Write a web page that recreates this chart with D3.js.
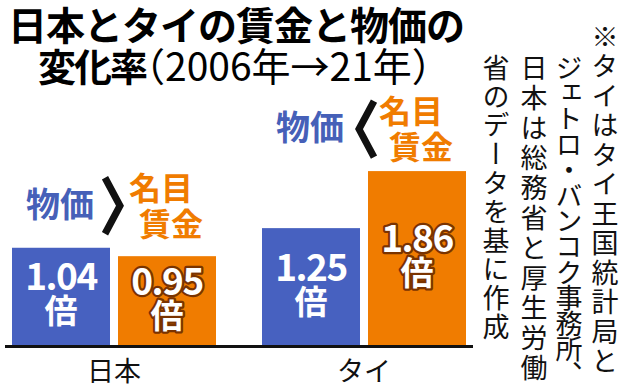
<!DOCTYPE html>
<html>
<head>
<meta charset="utf-8">
<script src="https://cdn.jsdelivr.net/npm/d3@7"></script>
<style>
  html, body { margin: 0; padding: 0; background: #fff; }
  svg { display: block; font-family: "Noto Sans CJK JP", "Noto Sans", sans-serif; }
</style>
</head>
<body>
<script>
// data
const categories = ['日本', 'タイ'];
const series = ['物価', '名目賃金'];
const priceValues = [1.04, 1.25];
const wageValues = [0.95, 1.86];
const titleLines = ['日本とタイの賃金と物価の', '変化率', '（2006年→21年）'];
const noteLines = ['※タイはタイ王国統計局と', 'ジェトロ・バンコク事務所、', '日本は総務省と厚生労働', '省のデータを基に作成'];

const width = 640;
const height = 392;
const blue = '#4761c0';
const orange = '#f07c00';

const svg = d3.select('body')
  .append('svg')
  .attr('width', width)
  .attr('height', height);

svg.append('rect').attr('width', width).attr('height', height).attr('fill', '#fff');

// title
svg.append('text')
  .attr('x', 8).attr('y', 40)
  .attr('font-size', 39).attr('font-weight', 700)
  .attr('letter-spacing', -1)
  .text(titleLines[0]);

svg.append('text')
  .attr('x', 38).attr('y', 81)
  .attr('font-size', 38).attr('font-weight', 700)
  .attr('letter-spacing', -2)
  .text(titleLines[1]);

svg.append('text')
  .attr('x', 126).attr('y', 81)
  .attr('font-size', 39).attr('font-weight', 400)
  .text(titleLines[2]);

// scales
const y = d3.scaleLinear().domain([0, 2]).range([345, 158]);
const x0 = d3.scaleBand().domain(categories).range([12, 466]).paddingInner(0.184);
const x1 = d3.scaleBand().domain(series).range([0, x0.bandwidth()]).paddingInner(0.0755);
const color = d3.scaleOrdinal().domain(series).range([blue, orange]);

const rows = categories.map((c, i) => ({
  cat: c,
  vals: [
    { key: series[0], v: priceValues[i] },
    { key: series[1], v: wageValues[i] }
  ]
}));

const groups = svg.selectAll('g.grp')
  .data(rows)
  .join('g')
  .attr('class', 'grp')
  .attr('transform', d => `translate(${x0(d.cat)},0)`);

groups.selectAll('rect')
  .data(d => d.vals)
  .join('rect')
  .attr('x', d => x1(d.key))
  .attr('y', d => y(d.v))
  .attr('width', x1.bandwidth())
  .attr('height', d => y(0) - y(d.v))
  .attr('fill', d => color(d.key));

// value labels inside bars
const fmt = d3.format('.2f');
const lab = groups.selectAll('g.lab')
  .data(d => d.vals)
  .join('g')
  .attr('class', 'lab')
  .attr('transform', d => `translate(${x1(d.key) + x1.bandwidth() / 2},${(y(d.v) + y(0)) / 2})`)
  .attr('text-anchor', 'middle')
  .attr('font-weight', 700)
  .attr('fill', '#fff')
  .attr('stroke', d => d.key === series[1] ? '#7a3300' : 'none')
  .attr('stroke-width', 4.5)
  .attr('stroke-linejoin', 'round')
  .style('paint-order', 'stroke');

lab.append('text')
  .attr('y', -6)
  .attr('font-size', 37)
  .attr('letter-spacing', -1.5)
  .text(d => fmt(d.v));

lab.append('text')
  .attr('y', 27)
  .attr('font-size', 33)
  .text('倍');

// comparison annotation above each group
const ann = groups.append('g')
  .attr('transform', d => `translate(0,${y(d3.max(d.vals, v => v.v)) - 12})`)
  .attr('font-weight', 700);

ann.append('text')
  .attr('x', 48).attr('y', -19)
  .attr('text-anchor', 'middle')
  .attr('font-size', 34)
  .attr('fill', '#4660b8')
  .text(series[0]);

ann.append('path')
  .attr('d', d => d.vals[0].v > d.vals[1].v
    ? 'M93,-58L108,-30L93,-2'
    : 'M112,-58L97,-30L112,-2')
  .attr('fill', 'none')
  .attr('stroke', '#111')
  .attr('stroke-width', 7);

ann.append('text')
  .attr('x', 117).attr('y', -36)
  .attr('font-size', 32)
  .attr('fill', orange)
  .text(series[1].slice(0, 2));

ann.append('text')
  .attr('x', 127).attr('y', 0)
  .attr('font-size', 32)
  .attr('fill', orange)
  .text(series[1].slice(2));

// axis
const axis = svg.append('g')
  .attr('transform', `translate(0,${y(0)})`)
  .call(d3.axisBottom(x0).tickSize(0));
axis.select('.domain').remove();
axis.selectAll('text')
  .attr('y', 36).attr('dy', null)
  .attr('font-size', 27)
  .attr('font-family', '"Noto Sans CJK JP", sans-serif')
  .attr('fill', '#111');

svg.append('line')
  .attr('x1', x0.range()[0] - 7).attr('x2', x0.range()[1] + 7)
  .attr('y1', y(0) + 1.5).attr('y2', y(0) + 1.5)
  .attr('stroke', '#111')
  .attr('stroke-width', 3);

// vertical source note
const noteX = [605, 569, 534, 496];
const noteTop = [23, 54, 54, 54];
const noteSpacing = [2.5, -1.4, 3, 1.8];
svg.selectAll('text.note')
  .data(noteLines)
  .join('text')
  .attr('class', 'note')
  .attr('x', (d, i) => noteX[i])
  .attr('y', (d, i) => noteTop[i])
  .attr('font-size', 27)
  .attr('letter-spacing', (d, i) => noteSpacing[i])
  .attr('fill', '#111')
  .style('writing-mode', 'vertical-rl')
  .text(d => d);
</script>
</body>
</html>
